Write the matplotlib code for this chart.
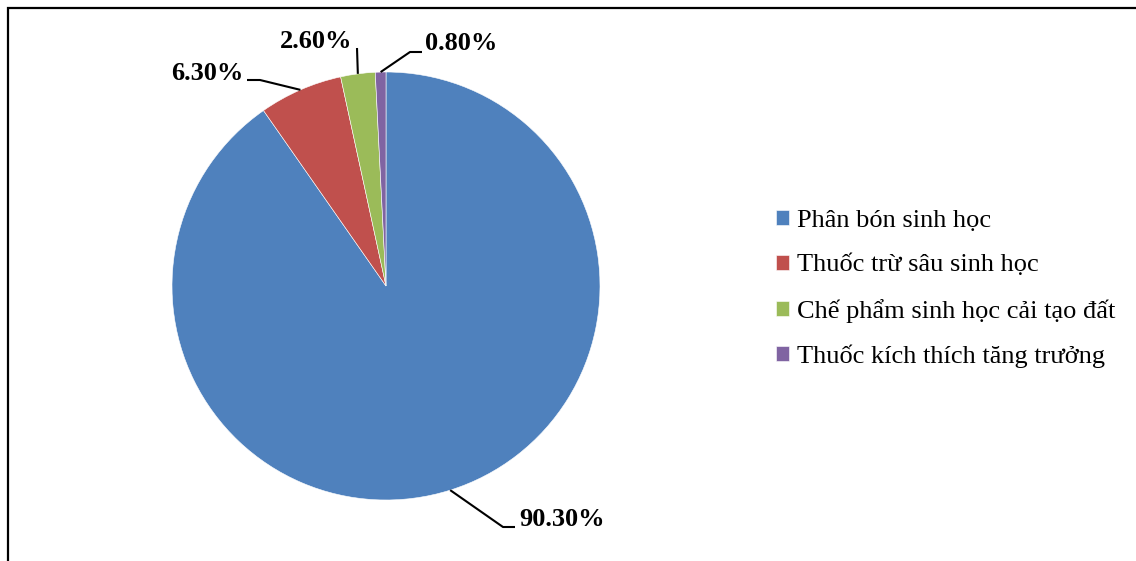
import matplotlib.pyplot as plt
import matplotlib.patches as mpatches
import numpy as np

categories = ['Phân bón sinh học', 'Thuốc trừ sâu sinh học',
              'Chế phẩm sinh học cải tạo đất', 'Thuốc kích thích tăng trưởng']
shares = [90.3, 6.3, 2.6, 0.8]
colors = ['#4F81BD', '#C0504D', '#9BBB59', '#8064A2']

plt.rcParams['font.family'] = ['Liberation Serif', 'DejaVu Serif']

W, H = 1136, 561
fig = plt.figure(figsize=(W / 100, H / 100), dpi=100)
ax = fig.add_axes([0, 0, 1, 1])

cx, cy, r = 386, H - 286, 214
wedges, _ = ax.pie(shares, colors=colors, startangle=90, counterclock=False,
                   center=(cx, cy), radius=r, frame=True,
                   wedgeprops=dict(edgecolor='white', linewidth=0.4))
ax.set_xlim(0, W)
ax.set_ylim(0, H)
ax.set_aspect('equal')
ax.axis('off')

# leader line elbows / ends and label anchors (pixel space, y from top)
leaders = [
    [(503, 527), (515, 527)],
    [(260, 80), (247, 80)],
    [(357, 48)],
    [(410, 52), (422, 52)],
]
label_pos = [(519, 520, 'left'), (243, 73, 'right'), (352, 41, 'right'), (425, 43, 'left')]

for w, val, pts, (tx, ty, ha) in zip(wedges, shares, leaders, label_pos):
    mid = np.deg2rad((w.theta1 + w.theta2) / 2)
    ex, ey = cx + r * np.cos(mid), cy + r * np.sin(mid)
    xs = [ex] + [p[0] for p in pts]
    ys = [ey] + [H - p[1] for p in pts]
    ax.plot(xs, ys, color='black', lw=1.5, solid_capstyle='butt')
    ax.text(tx, H - ty, f'{val:.2f}%', ha=ha, va='center',
            fontsize=19, fontweight='bold')

leg = ax.legend(wedges, categories, loc='upper left',
                bbox_to_anchor=(752 / W, 1 - 186 / H), bbox_transform=fig.transFigure,
                frameon=False, fontsize=19, handlelength=0.5, handleheight=0.5,
                handletextpad=0.3, labelspacing=0.84)

# outer border (bottom and right sides run off the image)
fig.patches.append(mpatches.Rectangle((7.5 / W, -0.1), 2, 1 - 8 / H + 0.1,
                                      transform=fig.transFigure, fill=False,
                                      edgecolor='black', lw=1.6))

fig.savefig('out.png', dpi=100)
